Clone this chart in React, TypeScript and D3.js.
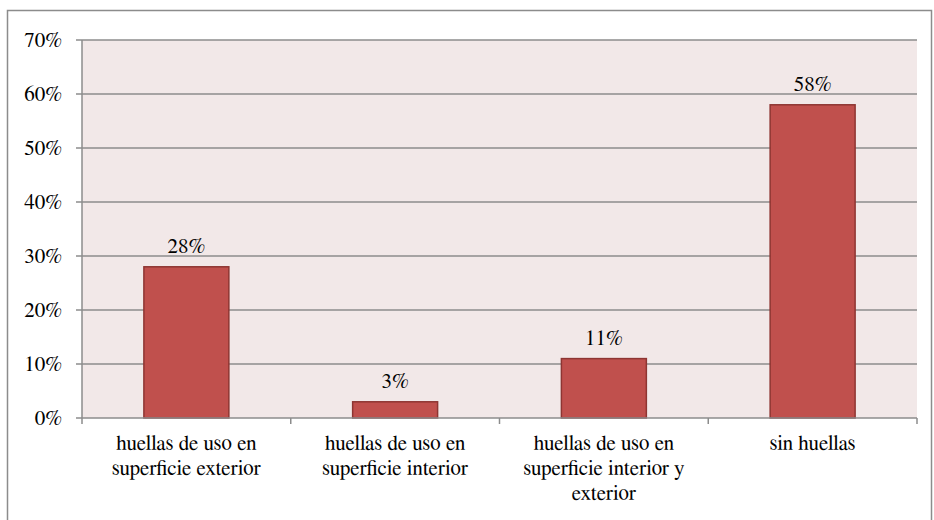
import React from "react";
import * as d3 from "d3";

const categories: string[][] = [
  ["huellas de uso en", "superficie exterior"],
  ["huellas de uso en", "superficie interior"],
  ["huellas de uso en", "superficie interior y", "exterior"],
  ["sin huellas"],
];
const values: number[] = [0.28, 0.03, 0.11, 0.58];
const yTicks: number[] = [0, 0.1, 0.2, 0.3, 0.4, 0.5, 0.6, 0.7];

const W = 934;
const H = 520;
const left = 82;
const right = 917;
const top = 40;
const bottom = 418;
const ts: React.CSSProperties = { fontFamily: '"FreeSerif", "Liberation Serif", serif', fontSize: "21px" };

export default function App() {
  const x = d3
    .scaleBand<number>()
    .domain(values.map((_, i) => i))
    .range([left, right])
    .padding(0);
  const y = d3.scaleLinear().domain([0, 0.7]).range([bottom, top]);
  const bw = x.bandwidth() * 0.407;
  const fmt = d3.format(".0%");

  return (
    <svg width={W} height={H} style={{ position: "absolute", left: 0, top: 0 }}>
      <rect x={7.5} y={10.5} width={924} height={520} fill="#fff" stroke="#8c8c8c" strokeWidth={1.5} />
      <rect x={left} y={top} width={right - left} height={bottom - top} fill="#f2e8e8" />
      {yTicks.map((t) => (
        <g key={t}>
          {t > 0 && (
            <line x1={left} x2={right} y1={y(t)} y2={y(t)} stroke="#8c8c8c" strokeWidth={1.5} />
          )}
          <line x1={left - 6} x2={left} y1={y(t)} y2={y(t)} stroke="#8c8c8c" strokeWidth={1.5} />
          <text x={62} y={y(t) + 7} textAnchor="end" style={ts} fill="#000">
            {fmt(t)}
          </text>
        </g>
      ))}
      <line x1={right} x2={right} y1={bottom} y2={bottom + 6} stroke="#8c8c8c" strokeWidth={1.5} />
      {values.map((v, i) => {
        const cx = (x(i) as number) + x.bandwidth() / 2;
        return (
          <g key={i}>
            <rect
              x={cx - bw / 2}
              y={y(v)}
              width={bw}
              height={bottom - y(v)}
              fill="#c0504d"
              stroke="#8e3532"
              strokeWidth={1.5}
            />
            <text x={cx} y={y(v) - 14} textAnchor="middle" style={ts} fill="#000">
              {fmt(v)}
            </text>
            <line
              x1={x(i) as number}
              x2={x(i) as number}
              y1={bottom}
              y2={bottom + 6}
              stroke="#8c8c8c"
              strokeWidth={1.5}
            />
            {categories[i].map((line, j) => (
              <text key={j} x={cx} y={450 + j * 25} textAnchor="middle" style={ts} fill="#000">
                {line}
              </text>
            ))}
          </g>
        );
      })}
      <line x1={left} x2={left} y1={top} y2={bottom} stroke="#8c8c8c" strokeWidth={1.5} />
      <line x1={left} x2={right} y1={bottom} y2={bottom} stroke="#8c8c8c" strokeWidth={1.5} />
    </svg>
  );
}
